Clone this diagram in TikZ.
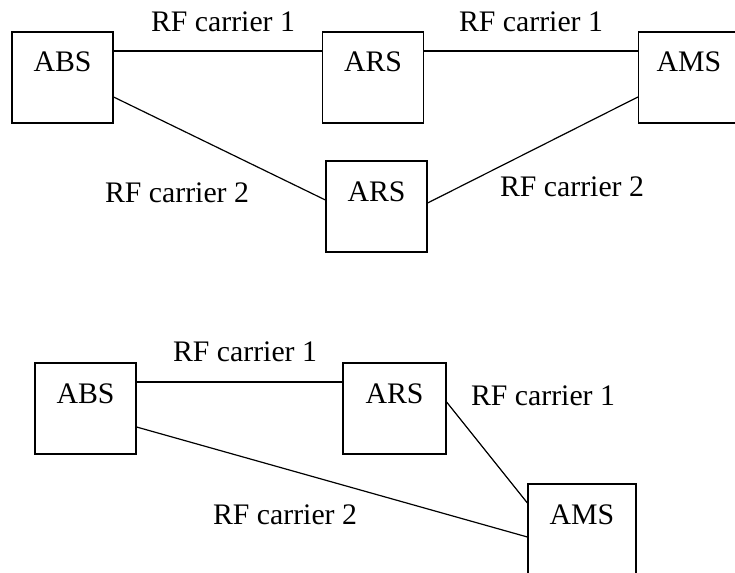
\documentclass[tikz,border=0pt]{standalone}
\usepackage{fontspec}
\setmainfont{Liberation Serif}
\usepackage{tikz}
\usetikzlibrary{calc}

\begin{document}
\begin{tikzpicture}[x=1pt, y=-1pt, line width=1.2pt,
    station/.style = {draw, minimum width=101pt, minimum height=91pt,
                      text height=20pt, text depth=31pt, inner sep=0pt},
    carrier/.style = {inner sep=0pt}]
  \fontsize{29.8}{36}\selectfont
  \useasboundingbox (0,0) rectangle (735,572);

  % upper arrangement
  \node[station] (abs) at (62.5,77.5) {ABS};
  \node[station] (ars) at (373,77.5) {ARS};
  \node[station] (ams) at (689,77.5) {AMS};
  \node[station] (arsmid) at (376.5,206.5) {ARS};

  \node[carrier] (c1) at (223,22) {RF carrier 1};
  \node[carrier] (c2) at (531,22) {RF carrier 1};
  \node[carrier] (c3) at (177,193) {RF carrier 2};
  \node[carrier] (c4) at (572,187) {RF carrier 2};

  \draw ([yshift=26.5pt]abs.east) -- ([yshift=26.5pt]ars.west);
  \draw ([yshift=26.5pt]ars.east) -- ([yshift=26.5pt]ams.west);
  \draw ([yshift=-19.5pt]abs.east) -- ([yshift=6.5pt]arsmid.west);
  \draw ([yshift=-19.5pt]ams.west) -- ([yshift=3.5pt]arsmid.east);

  % lower arrangement
  \node[station] (absl) at (85.5,408.5) {ABS};
  \node[station, minimum width=103pt] (arsl) at (394.5,408.5) {ARS};
  \node[station, minimum width=108pt] (amsl) at (582,529.5) {AMS};

  \node[carrier] (c5) at (245,352) {RF carrier 1};
  \node[carrier] (c6) at (543,396) {RF carrier 1};
  \node[carrier] (c7) at (285,515) {RF carrier 2};

  \draw ([yshift=26.5pt]absl.east) -- ([yshift=26.5pt]arsl.west);
  \draw ([yshift=-18.5pt]absl.east) -- ([yshift=-7.5pt]amsl.west);
  \draw ([yshift=6.5pt]arsl.east) -- ([yshift=26.5pt]amsl.west);
\end{tikzpicture}
\end{document}
